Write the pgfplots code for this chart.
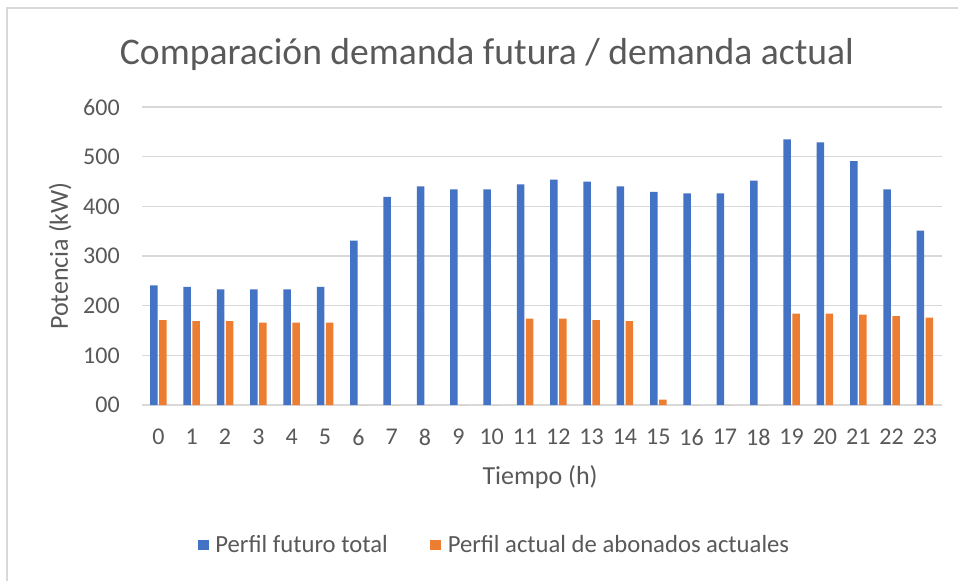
\documentclass[border=0pt]{standalone}
\usepackage{fontspec}
\setmainfont{Carlito}
\usepackage{pgfplots}
\pgfplotsset{compat=1.18}
\definecolor{xblue}{HTML}{4472C4}
\definecolor{xorange}{HTML}{ED7D31}
\definecolor{txt}{HTML}{595959}
\definecolor{gridc}{HTML}{D9D9D9}
\begin{document}
\begin{tikzpicture}
\useasboundingbox (0,0) rectangle (718.5pt,-435.75pt);
\fill[white] (0,0) rectangle (718.5pt,-435.75pt);
\draw[gridc, line width=1.5pt] (5.6pt,-435.75pt) -- (5.6pt,-6.2pt) -- (718.5pt,-6.2pt);
\begin{axis}[
  at={(106.3pt,-303.75pt)}, anchor=south west,
  scale only axis, width=599.9pt, height=223.5pt,
  xmin=-0.5, xmax=23.5, ymin=0, ymax=600,
  axis line style={draw=none},
  major tick length=0pt,
  ymajorgrids, grid style={gridc, line width=0.9pt},
  ytick={0,100,...,600},
  yticklabels={00,100,200,300,400,500,600},
  xtick={0,...,23},
  xticklabels={0,1,2,3,4,5,6,7,8,9,10,11,12,13,14,15,16,17,18,19,20,21,22,23},
  ticklabel style={font=\fontsize{18}{20}\selectfont, text=txt},
  yticklabel style={xshift=-13pt},
  xticklabel style={yshift=-14.5pt},
  ybar, bar width=0.225,
  title={Comparación demanda futura / demanda actual},
  title style={font=\fontsize{28.2}{32}\selectfont, text=txt, at={(axis description cs:0.4316,1.151)}, anchor=center},
  xlabel={Tiempo (h)},
  xlabel style={font=\fontsize{19.5}{23}\selectfont, text=txt, at={(axis description cs:0.498,-0.2416)}, anchor=center},
  ylabel={Potencia (kW)},
  ylabel style={font=\fontsize{19.5}{23}\selectfont, text=txt, at={(axis description cs:-0.102,0.5)}, anchor=center},
  legend style={draw=none, fill=none, at={(axis description cs:0.4416,-0.47)}, anchor=center,
    font=\fontsize{18.5}{20}\selectfont, text=txt, legend columns=2,
    /tikz/every even column/.append style={column sep=30pt}},
  legend image code/.code={\fill[#1] (0pt,-4pt) rectangle (8pt,4pt);},
]
\addplot[fill=xblue, draw=none, bar shift=-0.135] coordinates {
(0,241) (1,238) (2,233) (3,233) (4,233) (5,238) (6,331) (7,419) (8,440) (9,434) (10,434) (11,444)
(12,454) (13,450) (14,440) (15,429) (16,426) (17,426) (18,452) (19,535) (20,529) (21,491) (22,434) (23,351)};
\addlegendentry{\hspace{3pt}Perfil futuro total}
\addplot[fill=xorange, draw=none, bar shift=0.135] coordinates {
(0,171) (1,169) (2,169) (3,166) (4,166) (5,166) (6,0) (7,0) (8,0) (9,0) (10,0) (11,174)
(12,174) (13,171) (14,169) (15,11) (16,0) (17,0) (18,0) (19,184) (20,184) (21,182) (22,179) (23,176)};
\addlegendentry{\hspace{3pt}Perfil actual de abonados actuales}
\end{axis}
\end{tikzpicture}
\end{document}
